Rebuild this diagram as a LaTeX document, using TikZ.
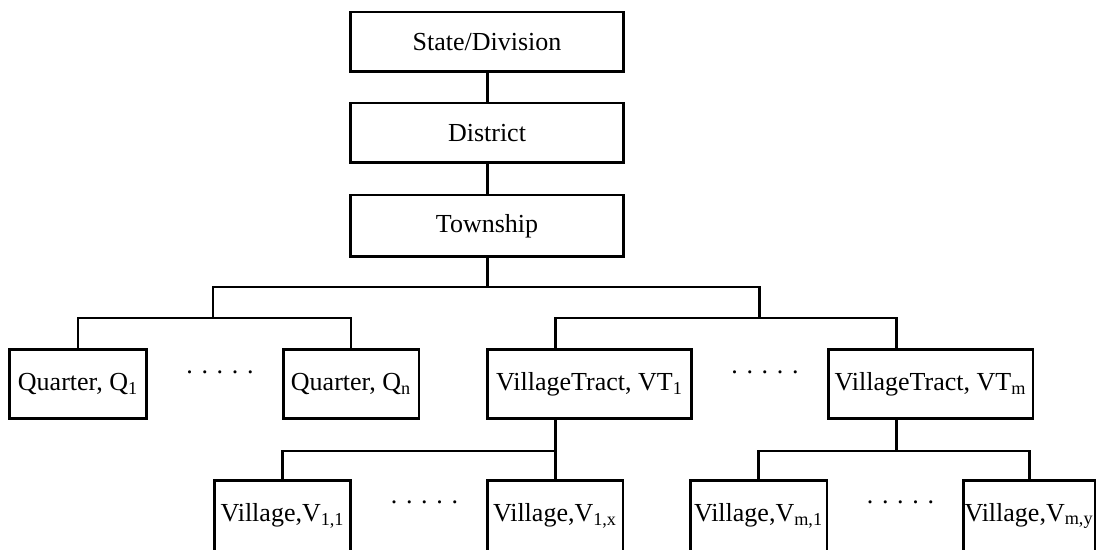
\documentclass[tikz,border=0pt]{standalone}
\usepackage{fontspec}
\setmainfont{Liberation Serif}
\usetikzlibrary{positioning}

\tikzset{
	unit/.style={draw,line width=1.7pt,inner sep=0pt,align=center,font=\fontsize{14.8}{17}\selectfont},
	link/.style={line width=1.7pt},
	gap/.style={anchor=base,inner sep=0pt,font=\fontsize{14.8}{17}\selectfont}
}

\begin{document}
\begin{tikzpicture}
			\begin{scope}[x={0.02cm},y={-0.02cm}]
				\useasboundingbox (0,0) rectangle (1101,550);
				\clip (0,0) rectangle (1101,550);

				% levels 1-3
				\node[unit,minimum width=5.48cm,minimum height=1.2cm] (state) at (487,42) {State/Division};
				\node[unit,minimum width=5.48cm,minimum height=1.2cm] (district) at (487,133) {District};
				\node[unit,minimum width=5.48cm,minimum height=1.24cm] (township) at (487,226) {Township};

				% level 4
				\node[unit,minimum width=2.76cm,minimum height=1.38cm] (q1) at (78,384) {Quarter, Q\textsubscript{1}};
				\node[unit,minimum width=2.72cm,minimum height=1.38cm] (qn) at (351,384) {Quarter, Q\textsubscript{n}};
				\node[unit,minimum width=4.1cm,minimum height=1.38cm] (vt1) at (589.5,384) {VillageTract, VT\textsubscript{1}};
				\node[unit,minimum width=4.1cm,minimum height=1.38cm] (vtm) at (930.5,384) {VillageTract, VT\textsubscript{m}};

				% level 5 (cut off at the bottom)
				\node[unit,minimum width=2.74cm,minimum height=1.42cm] (v11) at (282.5,516) {Village,V\textsubscript{1,1}};
				\node[unit,minimum width=2.72cm,minimum height=1.42cm] (v1x) at (555,516) {Village,V\textsubscript{1,x}};
				\node[unit,minimum width=2.74cm,minimum height=1.42cm] (vm1) at (758.5,516) {Village,V\textsubscript{m,1}};
				\node[unit,minimum width=2.64cm,minimum height=1.42cm] (vmy) at (1029,516) {Village,V\textsubscript{m,y}};

				% dots between siblings
				\node[gap] (qdots) at (220,373.5) {. . . . .};
				\node[gap] (vtdots) at (765,373.5) {. . . . .};
				\node[gap] (v1dots) at (424.5,503.5) {. . . . .};
				\node[gap] (vmdots) at (900.5,503.5) {. . . . .};

				% junctions
				\coordinate (tj) at (487,287); % below township
				\coordinate (qj) at (213,318); % quarters
				\coordinate (vtj) at (759,318); % village tracts
				\coordinate (v1j) at (555,451); % villages of VT1
				\coordinate (vmj) at (896,451); % villages of VTm

				\draw[link] (state) -- (district);
				\draw[link] (district) -- (township);
				\draw[link] (township) -- (tj);
				\draw[link] (qj) |- (tj) -| (vtj);

				\draw[link] (q1.north) |- (qj) -| (qn.north);
				\draw[link] (v1j |- vt1.north) |- (vtj) -| (vmj |- vtm.north);

				\draw[link] (v1j |- vt1.south) -- (v1j);
				\draw[link] (v11.north) |- (v1j) -- (v1x.north);
				\draw[link] (vmj |- vtm.south) -- (vmj);
				\draw[link] (vm1.north) |- (vmj) -| (vmy.north);
			\end{scope}
		\end{tikzpicture}
\end{document}
